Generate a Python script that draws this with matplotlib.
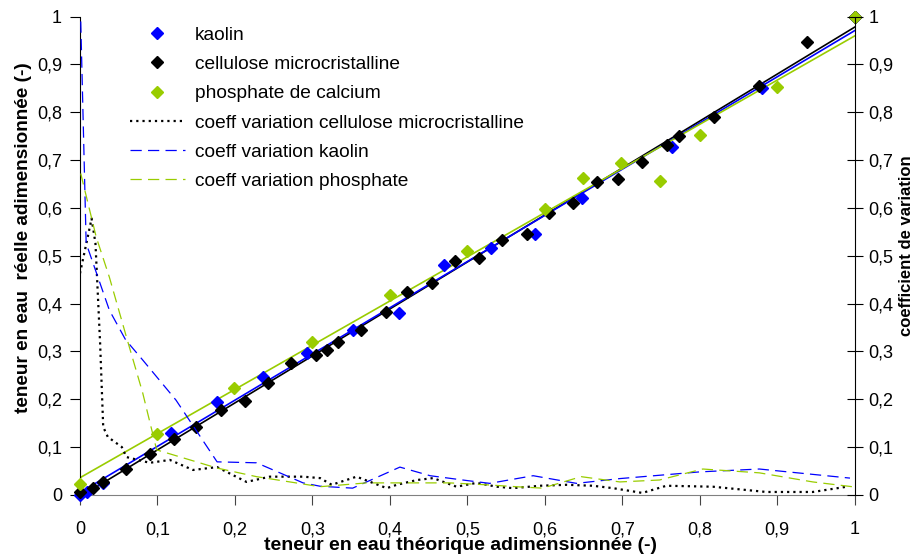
import numpy as np
import matplotlib
matplotlib.use('Agg')
from matplotlib import pyplot as plt
from matplotlib.ticker import FuncFormatter

plt.rcParams['font.family'] = ['Liberation Sans', 'DejaVu Sans']

# nuages de points (teneur theorique, teneur reelle)
kaolin_x = [0.0, 0.009, 0.03, 0.118, 0.177, 0.236, 0.293, 0.352, 0.412, 0.470, 0.530, 0.588, 0.648, 0.764, 0.881, 1.0]
kaolin_y = [0.0, 0.006, 0.025, 0.13, 0.195, 0.246, 0.296, 0.345, 0.380, 0.481, 0.516, 0.545, 0.621, 0.727, 0.850, 1.0]

cellulose_x = [0.0, 0.017, 0.03, 0.059, 0.09, 0.121, 0.15, 0.182, 0.213, 0.243, 0.272, 0.305, 0.319, 0.333,
               0.363, 0.395, 0.422, 0.454, 0.484, 0.515, 0.545, 0.577, 0.605, 0.636, 0.667, 0.695, 0.726,
               0.758, 0.773, 0.818, 0.877, 0.939, 1.0]
cellulose_y = [0.006, 0.015, 0.027, 0.054, 0.086, 0.117, 0.142, 0.178, 0.196, 0.234, 0.276, 0.292, 0.303, 0.319,
               0.345, 0.382, 0.424, 0.443, 0.489, 0.495, 0.533, 0.545, 0.589, 0.610, 0.654, 0.660, 0.697,
               0.731, 0.750, 0.790, 0.855, 0.948, 1.0]

phosphate_x = [0.0, 0.1, 0.199, 0.30, 0.40, 0.50, 0.60, 0.65, 0.699, 0.749, 0.80, 0.90, 1.0]
phosphate_y = [0.023, 0.127, 0.223, 0.32, 0.418, 0.511, 0.598, 0.662, 0.693, 0.657, 0.752, 0.853, 1.0]

# coefficients de variation
cv_cell_x = [0.0, 0.01, 0.015, 0.02, 0.026, 0.03, 0.036, 0.054, 0.06, 0.09, 0.116, 0.146, 0.177, 0.215, 0.245,
             0.288, 0.31, 0.325, 0.357, 0.378, 0.396, 0.409, 0.435, 0.456, 0.486, 0.512, 0.538, 0.559, 0.594,
             0.628, 0.662, 0.688, 0.726, 0.757, 0.817, 0.886, 0.946, 0.99]
cv_cell_y = [0.463, 0.539, 0.578, 0.526, 0.317, 0.142, 0.121, 0.10, 0.079, 0.067, 0.073, 0.052, 0.058, 0.027, 0.038,
             0.038, 0.035, 0.021, 0.038, 0.025, 0.014, 0.021, 0.031, 0.035, 0.017, 0.025, 0.017, 0.014, 0.019,
             0.021, 0.019, 0.014, 0.004, 0.019, 0.017, 0.006, 0.006, 0.017]

cv_kaolin_x = [0.001, 0.008, 0.038, 0.059, 0.081, 0.124, 0.177, 0.228, 0.288, 0.31, 0.352, 0.413, 0.452, 0.499,
               0.529, 0.585, 0.641, 0.697, 0.80, 0.877, 0.994]
cv_kaolin_y = [0.99, 0.526, 0.386, 0.324, 0.282, 0.198, 0.069, 0.067, 0.025, 0.018, 0.014, 0.058, 0.04, 0.03,
               0.024, 0.04, 0.024, 0.034, 0.048, 0.054, 0.035]

cv_phos_x = [0.001, 0.021, 0.038, 0.06, 0.081, 0.099, 0.177, 0.228, 0.31, 0.37, 0.413, 0.477, 0.525, 0.563,
             0.597, 0.647, 0.697, 0.748, 0.804, 0.877, 0.946, 0.997]
cv_phos_y = [0.672, 0.539, 0.455, 0.33, 0.213, 0.094, 0.056, 0.038, 0.017, 0.025, 0.025, 0.025, 0.021, 0.017,
             0.014, 0.038, 0.027, 0.031, 0.054, 0.046, 0.027, 0.017]

BLEU = '#0000FF'
VERT = '#99CC00'

fig, ax = plt.subplots(figsize=(9.16, 5.56), dpi=100)
fig.subplots_adjust(left=0.0873, right=0.933, bottom=0.11, top=0.97)
ax2 = ax.twinx()

xx = np.array([0.0, 1.0])
for xs, ys, c in [(cellulose_x, cellulose_y, 'black'), (kaolin_x, kaolin_y, BLEU), (phosphate_x, phosphate_y, VERT)]:
    a, b = np.polyfit(xs, ys, 1)
    ax.plot(xx, a * xx + b, color=c, lw=1.2, zorder=2)

h1, = ax.plot(kaolin_x, kaolin_y, 'D', color=BLEU, ms=6.2, label='kaolin', clip_on=False, zorder=3)
h2, = ax.plot(cellulose_x, cellulose_y, 'D', color='black', ms=6.2, label='cellulose microcristalline', clip_on=False, zorder=3)
h3, = ax.plot(phosphate_x, phosphate_y, 'D', color=VERT, ms=6.2, label='phosphate de calcium', clip_on=False, zorder=3)

h4, = ax2.plot(cv_cell_x, cv_cell_y, color='black', lw=1.6, ls=(0, (1, 1.8)), label='coeff variation cellulose microcristalline')
h5, = ax2.plot(cv_kaolin_x, cv_kaolin_y, color=BLEU, lw=0.9, ls=(0, (9, 5)), label='coeff variation kaolin')
h6, = ax2.plot(cv_phos_x, cv_phos_y, color=VERT, lw=0.9, ls=(0, (9, 5)), label='coeff variation phosphate')

fmt = FuncFormatter(lambda v, p: ('%g' % round(v, 1)).replace('.', ','))
ticks = np.round(np.arange(0, 1.01, 0.1), 1)
for a_ in (ax, ax2):
    a_.set_xlim(0, 1)
    a_.set_ylim(0, 1)
    a_.set_yticks(ticks)
    a_.yaxis.set_major_formatter(fmt)
    a_.spines['top'].set_visible(False)
    a_.tick_params(labelsize=13)
ax.set_xticks(ticks)
ax.xaxis.set_major_formatter(fmt)
ax.tick_params(axis='x', direction='out', length=7, pad=12, color='#444444')
ax.tick_params(axis='y', direction='out', length=7, pad=6)
ax2.tick_params(axis='y', direction='inout', length=12, pad=4)
ax.spines['bottom'].set_color('#808080')
ax2.spines['bottom'].set_visible(False)
ax.spines['right'].set_visible(False)
ax2.spines['left'].set_visible(False)

ax.set_xlabel('teneur en eau théorique adimensionnée (-)', fontsize=14, fontweight='bold')
ax.xaxis.set_label_coords(0.491, -0.089)
ax.set_ylabel('teneur en eau  réelle adimensionnée (-)', fontsize=13.7, fontweight='bold')
ax.yaxis.set_label_coords(-0.062, 0.537)
ax2.set_ylabel('coefficient de variation', fontsize=12, fontweight='bold')
ax2.yaxis.set_label_coords(1.057, 0.522)

leg = ax2.legend(handles=[h1, h2, h3, h4, h5, h6], loc='upper left', bbox_to_anchor=(0.0645, 0.98),
                 frameon=False, fontsize=13.8, labelspacing=0.62, handlelength=2.85, handletextpad=0.55,
                 borderpad=0, borderaxespad=0)

fig.savefig('out.png', dpi=100)
